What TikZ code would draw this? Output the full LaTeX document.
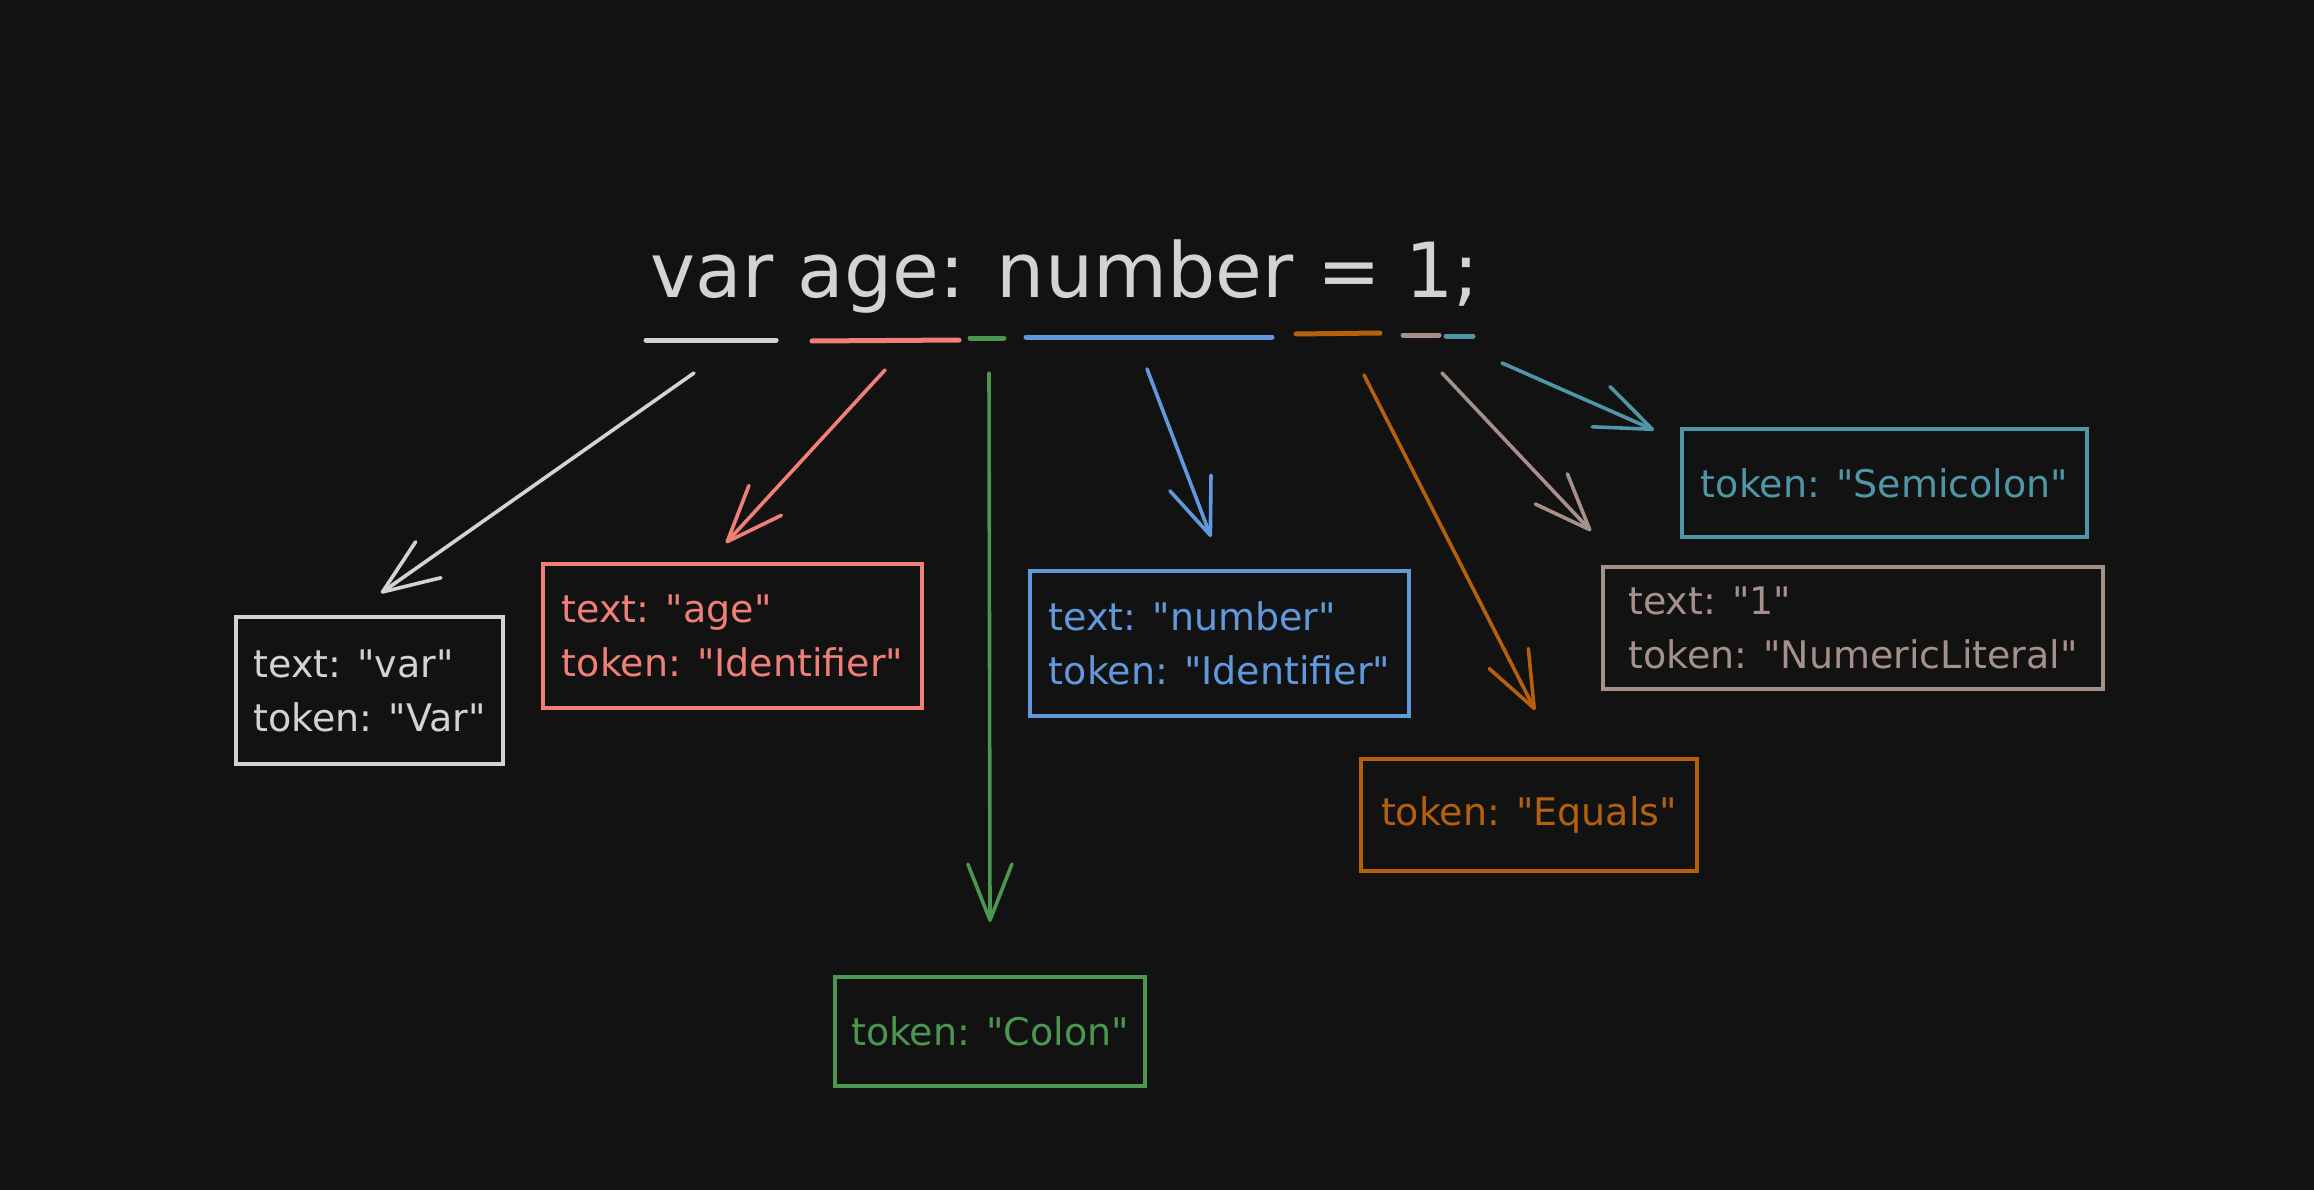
\documentclass[tikz,border=0pt]{standalone}
\usepackage{fontspec}
\setmainfont{DejaVu Sans}[Ligatures=TeXOff]
\usetikzlibrary{arrows.meta}
\definecolor{bgc}{HTML}{121212}
\definecolor{cwhite}{HTML}{D3D3D3}
\definecolor{cred}{HTML}{F07F78}
\definecolor{cgreen}{HTML}{4B9650}
\definecolor{cblue}{HTML}{6199DD}
\definecolor{corange}{HTML}{B4600C}
\definecolor{cbrown}{HTML}{A6908A}
\definecolor{cteal}{HTML}{4F97A8}
\begin{document}
\begin{tikzpicture}[x=1pt,y=-1pt,
  box/.style={draw=#1,text=#1,line width=4pt,rectangle,align=left,
    font=\fontsize{38}{54}\selectfont,inner sep=0pt},
  arr/.style={draw=#1,line width=3.6pt,line cap=round,
    -{Straight Barb[length=56pt,width=44pt,line cap=round,line join=round]}},
  ul/.style={draw=#1,line width=5pt,line cap=round}]
\fill[bgc] (0,0) rectangle (2314,1190);
\useasboundingbox (0,0) rectangle (2314,1190);

% title
\node[font=\fontsize{76}{90}\selectfont,text=cwhite,anchor=base,inner sep=0pt] (title) at (1065,298) {var age: number = 1;};

% underlines
\draw[ul=cwhite]  (646,340) -- (776,340);
\draw[ul=cred]    (812,341) -- (959,340);
\draw[ul=cgreen]  (970,338) -- (1004,338);
\draw[ul=cblue]   (1026,337) -- (1272,337);
\draw[ul=corange] (1296,334) -- (1380,333);
\draw[ul=cbrown]  (1403,335) -- (1439,335);
\draw[ul=cteal]   (1446,336) -- (1473,336);

% boxes
\node[box=cwhite, minimum width=267pt, minimum height=147pt] (bvar) at (369.5,690.5) {text: "var"\\token: "Var"};
\node[box=cred, minimum width=379pt, minimum height=144pt] (bage) at (732.5,636) {text: "age"\\token: "Identifier"};
\node[box=cblue, minimum width=379pt, minimum height=145pt] (bnum) at (1219.5,643.5) {text: "number"\\token: "Identifier"};
\node[box=cbrown, minimum width=500pt, minimum height=122pt] (blit) at (1853,628) {text: "1"\\token: "NumericLiteral"};
\node[box=cteal, minimum width=405pt, minimum height=108pt] (bsemi) at (1884.5,483) {token: "Semicolon"};
\node[box=corange, minimum width=336pt, minimum height=112pt] (beq) at (1529,815) {token: "Equals"};
\node[box=cgreen, minimum width=310pt, minimum height=109pt] (bcolon) at (990,1031.5) {token: "Colon"};

% arrow ends
\coordinate (s1) at (694,373);  \coordinate (e1) at (381,593);
\coordinate (s2) at (885,370);  \coordinate (e2) at (726,543);
\coordinate (s3) at (989,373);  \coordinate (e3) at (990,922);
\coordinate (s4) at (1147,369); \coordinate (e4) at (1211,537);
\coordinate (s5) at (1364,375); \coordinate (e5) at (1535,710);
\coordinate (s6) at (1442,373); \coordinate (e6) at (1591,531);
\coordinate (s7) at (1502,363); \coordinate (e7) at (1654,430);

\draw[arr=cwhite]  (s1) -- (e1);
\draw[arr=cred]    (s2) -- (e2);
\draw[arr=cgreen]  (s3) -- (e3);
\draw[arr=cblue]   (s4) -- (e4);
\draw[arr=corange] (s5) -- (e5);
\draw[arr=cbrown]  (s6) -- (e6);
\draw[arr=cteal]   (s7) -- (e7);
\end{tikzpicture}
\end{document}
